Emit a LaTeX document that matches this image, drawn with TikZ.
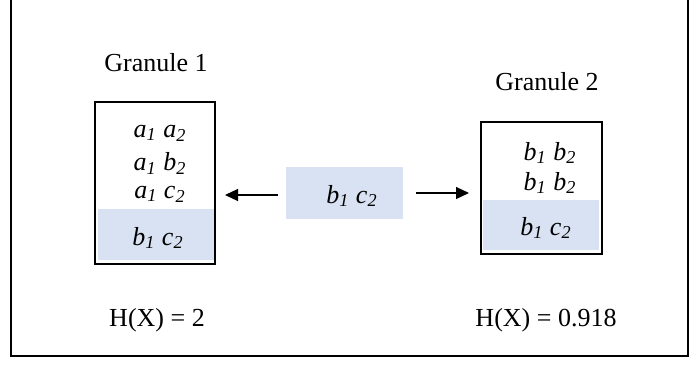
\documentclass[tikz,border=0pt]{standalone}
\usepackage{fontspec}
\setmainfont{Liberation Serif}
\usetikzlibrary{arrows.meta}
\definecolor{shade}{HTML}{D9E2F3}
\tikzset{
  x=0.5pt, y=-0.5pt,
  lbl/.style={inner sep=0pt, font=\fontsize{13}{15}\selectfont},
  itl/.style={inner sep=0pt, font=\fontsize{13}{15}\selectfont\itshape},
  granbox/.style={draw=black, line width=1pt, inner sep=0pt},
  shadebox/.style={fill=shade, draw=none, inner sep=0pt},
  arr/.style={line width=0.6pt, -{Triangle[length=6.5pt,width=6pt]}},
  frame/.style={line width=1pt}
}
\newcommand{\subx}[1]{\textsubscript{#1}}
\begin{document}
\begin{tikzpicture}
\useasboundingbox (0,0) rectangle (700,364);
% outer frame (top open)
\coordinate (ftl) at (11,0);
\coordinate (fbl) at (11,356);
\coordinate (fbr) at (688,356);
\coordinate (ftr) at (688,0);
\draw[frame] (ftl) -- (fbl) -- (fbr) -- (ftr);

% shaded areas
\node[shadebox, minimum width=58pt, minimum height=25.5pt] (sh1) at (156,234.5) {};
\node[shadebox, minimum width=58.5pt, minimum height=26pt] (mid) at (344.5,193) {};
\node[shadebox, minimum width=58pt, minimum height=25pt] (sh2) at (540.5,225) {};

% granule boxes
\node[granbox, minimum width=60pt, minimum height=81pt] (box1) at (155,183) {};
\node[granbox, minimum width=60.5pt, minimum height=66pt] (box2) at (541.5,188) {};

% titles
\node[lbl] (g1) at (156,63) {Granule 1};
\node[lbl] (g2) at (547,82) {Granule 2};

% left box contents
\node[itl] (l1) at (160,133) {a\subx{1} a\subx{2}};
\node[itl] (l2) at (160,163.5) {a\subx{1} b\subx{2}};
\node[itl] (l3) at (160,194) {a\subx{1} c\subx{2}};
\node[itl] (l4) at (158,238) {b\subx{1} c\subx{2}};

% middle text
\node[itl] (mt) at (352,196) {b\subx{1} c\subx{2}};

% right box contents
\node[itl] (r1) at (550,153) {b\subx{1} b\subx{2}};
\node[itl] (r2) at (550,183) {b\subx{1} b\subx{2}};
\node[itl] (r3) at (546,228) {b\subx{1} c\subx{2}};

% arrows
\draw[arr, shorten <=4pt, shorten >=4.5pt] ([yshift=-1pt]mid.west) -- ([yshift=-1pt]mid.west -| box1.east);
\draw[arr, shorten <=6.5pt, shorten >=5.5pt] (mid.east) -- (mid.east -| box2.west);

% entropy labels
\node[lbl] (h1) at (157,320) {H(X) = 2};
\node[lbl] (h2) at (546,320) {H(X) = 0.918};
\end{tikzpicture}
\end{document}
